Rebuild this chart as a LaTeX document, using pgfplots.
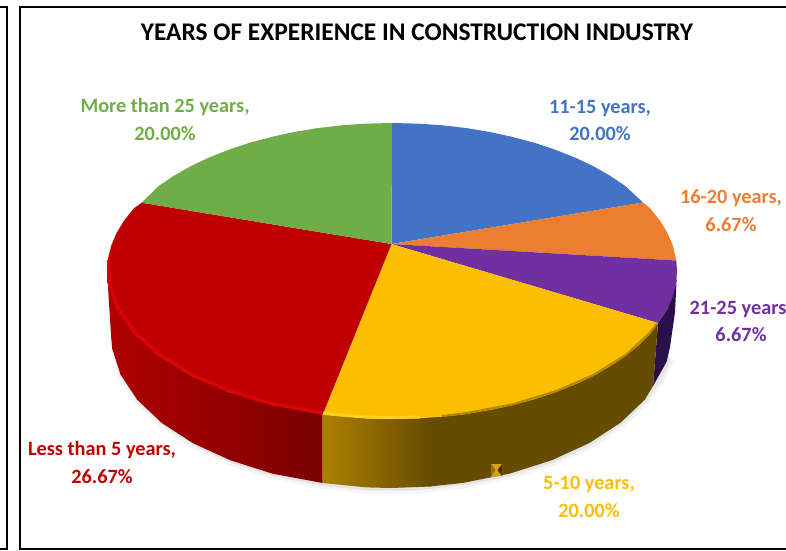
\documentclass[border=0pt]{standalone}
\usepackage{fontspec}
\setmainfont{Carlito}
\usepackage{pgfplots}
\pgfplotsset{compat=1.18}
\definecolor{cblue}{HTML}{4472C4}
\definecolor{corange}{HTML}{ED7D31}
\definecolor{cpurple}{HTML}{7030A0}
\definecolor{cyellow}{HTML}{FCBE00}
\definecolor{cred}{HTML}{C00000}
\definecolor{cgreen}{HTML}{70AD47}
\tikzset{lbl/.style={font=\bfseries\fontsize{20.3}{22}\selectfont,anchor=center,inner sep=0pt}}
\begin{document}
\begin{tikzpicture}[x=1pt,y=1pt]
\path[use as bounding box] (0,0) rectangle (786,550);
\begin{axis}[at={(0,0)},anchor=south west,scale only axis,width=786pt,height=550pt,
  xmin=0,xmax=786,ymin=0,ymax=550,y dir=reverse,axis lines=none,
  clip=true]
% frames
\addplot[black,line width=2pt] coordinates {(0,7)(7,7)(7,549)(0,549)};
\addplot[black,line width=2pt] coordinates {(790,6.5)(20,6.5)(20,548.5)(790,548.5)};
% shadow
\addplot[color=black!4,line width=11pt,line join=round] coordinates {(116,350)(124,376)(141,401)(165,424)(196,444)(233,461)(275,474)(320,483)(367,488)(415,488)(463,483)(509,474)(551,461)(589,444)(620,423)(645,400)(660,378)(669,358)};
\addplot[color=black!10,line width=5pt,line join=round] coordinates {(116,350)(124,376)(141,401)(165,424)(196,444)(233,461)(275,474)(320,483)(367,488)(415,488)(463,483)(509,474)(551,461)(589,444)(620,423)(645,400)(660,378)(669,358)};
% purple side
\addplot[draw=none,fill={rgb,255:red,42;green,16;blue,72}] coordinates {(677,271)(675.9,283.9)(667.3,309.3)(658,323)(653,386)(666.7,361.6)(670,347)(675,312)} --cycle;
% red side
\addplot[draw=none,left color={rgb,255:red,176;green,0;blue,0},right color={rgb,255:red,122;green,0;blue,0}] coordinates {(107,271)(108.1,283.9)(116.7,309.3)(133.7,333.5)(158.5,355.9)(190.5,375.7)(228.5,392.2)(271.6,405.1)(322.7,414.5)(322.7,483)(272.7,473.7)(230.4,460.3)(193,443.2)(161.6,422.8)(137.2,399.7)(120.5,374.6)(112.1,348.3)(111,335)} --cycle;
% yellow side
\addplot[draw=none,fill={rgb,255:red,102;green,76;blue,0}] coordinates {(430,417)(465.8,414)(512.4,405.1)(555.5,392.2)(593.5,375.7)(625.5,355.9)(658,323)(653,386)(644.8,399.7)(620.4,422.8)(589,443.2)(551.6,460.3)(509.3,473.7)(463.5,482.8)(430,486.5)} --cycle;
\addplot[draw=none,left color={rgb,255:red,172;green,128;blue,0},right color={rgb,255:red,102;green,76;blue,0}] coordinates {(322.7,414.5)(367.2,418.4)(392,419)(431,417)(431,486.5)(391,488)(366.6,487.4)(322.7,483)} --cycle;
% marker on the yellow side
\addplot[draw=none,fill={rgb,255:red,214;green,160;blue,30}] coordinates {(491,464)(502,464)(502,476)(491,477)} --cycle;
\addplot[draw=none,fill={rgb,255:red,70;green,50;blue,0}] coordinates {(497.5,470)(502,464)(502,476)} --cycle;
\addplot[draw=none,fill={rgb,255:red,150;green,110;blue,15}] coordinates {(495.5,470)(491,464)(491,477)} --cycle;
% top faces
\addplot[draw=none,fill=cblue] coordinates {(391.5,244)(392,123)(416.8,123.6)(441.5,125.2)(465.8,128)(489.5,131.9)(512.4,136.9)(534.5,142.8)(555.5,149.8)(575.2,157.6)(593.5,166.3)(610.3,175.9)(625.5,186.1)(643,202.5)} --cycle;
\addplot[draw=none,fill=corange] coordinates {(391.5,244)(643,202.5)(650.3,208.5)(659.8,220.4)(667.3,232.7)(672.7,245.3)(676.3,260.5)} --cycle;
\addplot[draw=none,fill=cpurple] coordinates {(391.5,244)(676.3,260.5)(677,271)(675.9,283.9)(672.7,296.7)(667.3,309.3)(658,323)} --cycle;
\addplot[draw=none,fill=cyellow] coordinates {(391.5,244)(658,323)(650.3,333.5)(638.8,345)(625.5,355.9)(610.3,366.1)(593.5,375.7)(575.2,384.4)(555.5,392.2)(534.5,399.2)(512.4,405.1)(489.5,410.1)(465.8,414)(441.5,416.8)(416.8,418.4)(392,419)(367.2,418.4)(342.5,416.8)(322.7,414.5)} --cycle;
\addplot[draw=none,fill=cred] coordinates {(391.5,244)(322.7,414.5)(294.5,410.1)(271.6,405.1)(249.5,399.2)(228.5,392.2)(208.8,384.4)(190.5,375.7)(173.7,366.1)(158.5,355.9)(145.2,345)(133.7,333.5)(124.2,321.6)(116.7,309.3)(111.3,296.7)(108.1,283.9)(107,271)(108.1,258.1)(111.3,245.3)(116.7,232.7)(124.2,220.4)(133.7,208.5)(141.7,202.7)} --cycle;
\addplot[draw=none,fill=cgreen] coordinates {(391.5,244)(141.7,202.7)(158.5,186.1)(173.7,175.9)(190.5,166.3)(208.8,157.6)(228.5,149.8)(249.5,142.8)(271.6,136.9)(294.5,131.9)(318.2,128)(342.5,125.2)(367.2,123.6)(392,123)} --cycle;
% rims
\addplot[color={rgb,255:red,218;green,4;blue,4},line width=3.2pt,line join=round] coordinates {(108.5,260)(109.5,284)(118,308.5)(135,332.5)(159.5,354.5)(191.5,374.3)(229.5,390.8)(272.5,403.7)(322,412.8)};
\addplot[color={rgb,255:red,255;green,208;blue,30},line width=3pt,line join=round] coordinates {(323,413.2)(367.2,417)(392,417.5)(420,417)};
\addplot[color={rgb,255:red,180;green,135;blue,0},line width=2pt,line join=round] coordinates {(441.5,416)(465.8,413.2)(512.4,404.3)(555.5,391.4)(593.5,374.9)(625.5,355.1)(650,332.7)(657,323.5)};
% title and labels
\node[font=\bfseries\fontsize{25.4}{28}\selectfont,text=black,anchor=center,inner sep=0pt] at (axis cs:417,32) {YEARS OF EXPERIENCE IN CONSTRUCTION INDUSTRY};
\node[lbl,text=cblue] at (axis cs:600,108) {11-15 years,};
\node[lbl,text=cblue] at (axis cs:600,134) {20.00\%};
\node[lbl,text=corange] at (axis cs:731,198) {16-20 years,};
\node[lbl,text=corange] at (axis cs:731,225) {6.67\%};
\node[lbl,text=cpurple] at (axis cs:738,309) {21-25 years};
\node[lbl,text=cpurple] at (axis cs:741,335) {6.67\%};
\node[lbl,text=cyellow] at (axis cs:589,484) {5-10 years,};
\node[lbl,text=cyellow] at (axis cs:589,511) {20.00\%};
\node[lbl,text=cred] at (axis cs:102,450) {Less than 5 years,};
\node[lbl,text=cred] at (axis cs:102,477) {26.67\%};
\node[lbl,text=cgreen] at (axis cs:165,107) {More than 25 years,};
\node[lbl,text=cgreen] at (axis cs:165,134) {20.00\%};
\end{axis}
\end{tikzpicture}
\end{document}
